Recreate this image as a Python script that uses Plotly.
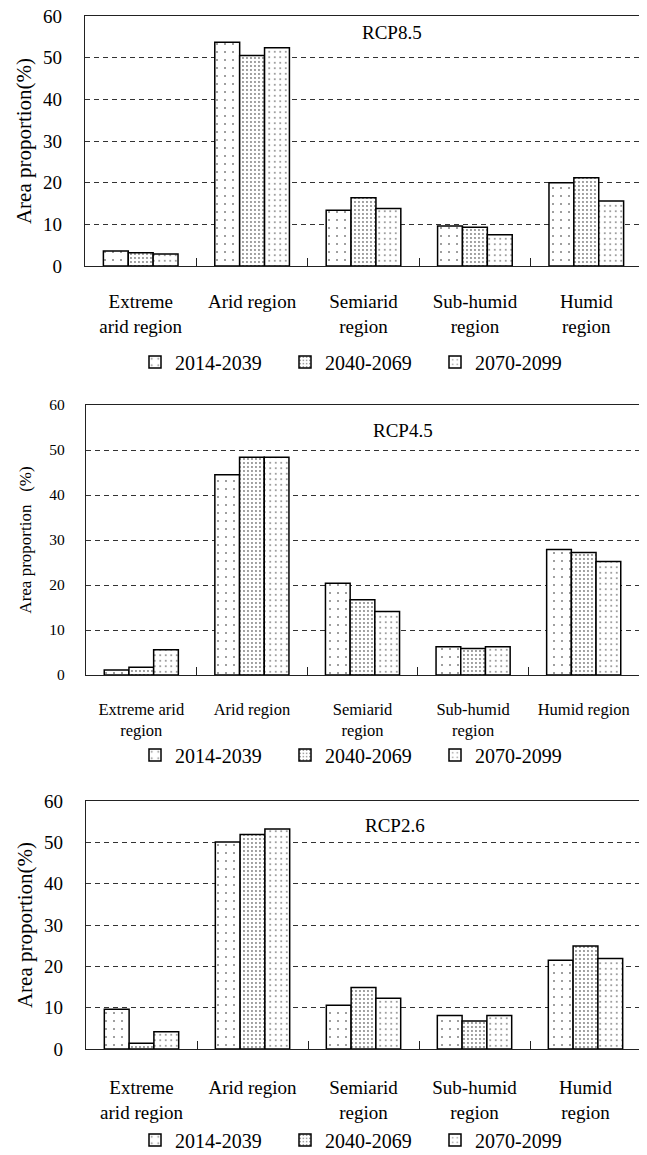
import plotly.graph_objects as go

categories_a = ["Extreme<br>arid region", "Arid region", "Semiarid<br>region", "Sub-humid<br>region", "Humid<br>region"]
categories_b = ["Extreme arid<br>region", "Arid region", "Semiarid<br>region", "Sub-humid<br>region", "Humid region"]
periods = ["2014-2039", "2040-2069", "2070-2099"]

rcp85 = [
    [3.6, 53.7, 13.4, 9.6, 20.0],
    [3.2, 50.5, 16.4, 9.3, 21.2],
    [2.9, 52.4, 13.8, 7.5, 15.6],
]
rcp45 = [
    [1.1, 44.5, 20.4, 6.3, 27.9],
    [1.7, 48.4, 16.7, 5.9, 27.2],
    [5.6, 48.4, 14.1, 6.3, 25.2],
]
rcp26 = [
    [9.6, 50.1, 10.6, 8.1, 21.5],
    [1.4, 51.9, 14.9, 6.8, 24.9],
    [4.2, 53.2, 12.3, 8.1, 21.9],
]
y_ticks = [0, 10, 20, 30, 40, 50, 60]

FONT = "Liberation Serif, Times New Roman, serif"
W, H, OFF = 647, 1155, 8  # page body margin offset
NB = "\u00a0"


def X(px):
    return (px - OFF) / W


def Y(py):
    return 1 - (py - OFF) / H


patterns = [dict(size=8, solidity=0.05), dict(size=4, solidity=0.18), dict(size=5.5, solidity=0.09)]

panels = [
    dict(name="RCP8.5", data=rcp85, cats=categories_a, xd=[X(85), X(642)], yd=[Y(266), Y(16)],
         tick=19, xtick=19, title="Area proportion(%)" + NB * 10, tfs=21, leg=20, legy=Y(362),
         ann=(0.551, 0.932), standoff=18, ystand=18, tstand=5),
    dict(name="RCP4.5", data=rcp45, cats=categories_b, xd=[X(86), X(639)], yd=[Y(675), Y(405)],
         tick=15.5, xtick=16.5, title="Area proportion" + NB * 3 + "(%)" + NB * 12, tfs=17, leg=20, legy=Y(755),
         ann=(0.573, 0.907), standoff=19, ystand=17, tstand=13),
    dict(name="RCP2.6", data=rcp26, cats=categories_a, xd=[X(86), X(641)], yd=[Y(1049), Y(801)],
         tick=19, xtick=19, title="Area proportion(%)" + NB * 10, tfs=21, leg=20, legy=Y(1140),
         ann=(0.557, 0.903), standoff=21, ystand=18, tstand=5),
]

fig = go.Figure()
layout = dict(
    width=W, height=H, margin=dict(l=0, r=0, t=0, b=0, autoexpand=False),
    paper_bgcolor="white", plot_bgcolor="white", bargap=0.33, bargroupgap=0,
    font=dict(family=FONT, color="black"), annotations=[],
)
for i, p in enumerate(panels):
    sfx = "" if i == 0 else str(i + 1)
    leg = "legend" if i == 0 else f"legend{i+1}"
    for j, per in enumerate(periods):
        fig.add_trace(go.Bar(
            x=p["cats"], y=p["data"][j], name=per, xaxis="x" + sfx, yaxis="y" + sfx,
            legend=leg,
            marker=dict(color="white", line=dict(color="black", width=1.5),
                        pattern=dict(shape=".", fgcolor="black", bgcolor="white",
                                     fillmode="overlay", **patterns[j])),
        ))
    layout["xaxis" + sfx] = dict(
        domain=p["xd"], anchor="y" + sfx, showline=True, mirror=True, linecolor="#222", linewidth=1.2,
        ticks="inside", tickson="boundaries", ticklen=8, tickcolor="#222",
        tickfont=dict(size=p["xtick"], family=FONT), ticklabelstandoff=p["standoff"],
        showgrid=False, fixedrange=True, automargin=False, ticklabeloverflow="allow",
    )
    layout["yaxis" + sfx] = dict(
        domain=p["yd"], anchor="x" + sfx, range=[0, 60], tickvals=y_ticks,
        showline=True, mirror=True, linecolor="#222", linewidth=1.2, ticks="",
        showgrid=True, gridcolor="#333", griddash="5px,4px", gridwidth=1,
        zeroline=False, tickfont=dict(size=p["tick"], family=FONT), ticklabelstandoff=p["ystand"],
        title=dict(text=p["title"], font=dict(size=p["tfs"], family=FONT), standoff=p["tstand"]),
        automargin=False, ticklabeloverflow="allow",
    )
    layout[leg] = dict(
        orientation="h", x=X(135), xanchor="left", y=p["legy"], yanchor="middle",
        entrywidth=105, entrywidthmode="pixels", itemwidth=30,
        font=dict(size=p["leg"], family=FONT), bgcolor="rgba(0,0,0,0)",
    )
    layout["annotations"].append(dict(
        text=p["name"], xref=f"x{sfx} domain", yref=f"y{sfx} domain",
        x=p["ann"][0], y=p["ann"][1], xanchor="center", yanchor="middle", showarrow=False,
        font=dict(size=19, family=FONT),
    ))

fig.update_layout(**layout)
fig.write_html("out.html")
